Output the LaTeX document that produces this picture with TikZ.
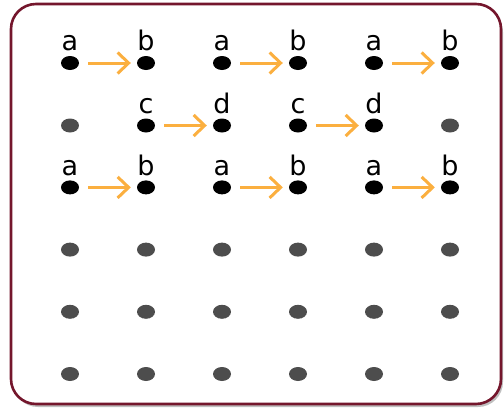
\documentclass[tikz,border=0pt]{standalone}
\usepackage{fontspec}
\setmainfont{DejaVu Sans}
\usetikzlibrary{arrows.meta,shapes.geometric,shadows}
\definecolor{frame}{HTML}{74162C}
\definecolor{greydot}{HTML}{4D4D4D}
\definecolor{flowc}{HTML}{FBAF3F}
\begin{document}
\begin{tikzpicture}[x=1pt,y=-1pt,>={Straight Barb[length=11pt,width=21pt]},
  dot/.style={ellipse,fill=#1,minimum width=18pt,minimum height=14pt,inner sep=0pt},
  dot/.default=greydot,
  lbl/.style={font=\fontsize{27}{30}\selectfont,label distance=1pt},
  flow/.style={->,draw=flowc,line width=3pt,shorten <=9pt,shorten >=6pt}]
\useasboundingbox (0,0) rectangle (504,408);
\draw[rounded corners=25pt,line width=2.6pt,draw=frame,fill=white,
  drop shadow={shadow xshift=2pt,shadow yshift=-3pt,opacity=.5}] (11,4) rectangle (501,404);
% labelled rows
\foreach \r in {1,3}
  \foreach \c/\t in {1/a,2/b,3/a,4/b,5/a,6/b}
    \node[dot=black,label={[lbl]above:\t}] (d\c\r) at ({70+76*(\c-1)},{63+62.2*(\r-1)}) {};
\foreach \c/\t in {2/c,3/d,4/c,5/d}
  \node[dot=black,label={[lbl]above:\t}] (d\c2) at ({70+76*(\c-1)},125.5) {};
% grey dots
\foreach \c in {1,6} \node[dot] (d\c2) at ({70+76*(\c-1)},125.5) {};
\foreach \r in {4,5,6}
  \foreach \c in {1,...,6}
    \node[dot] (d\c\r) at ({70+76*(\c-1)},{63+62.2*(\r-1)}) {};
% arrows
\foreach \r in {1,3}
  \foreach \c/\n in {1/2,3/4,5/6} \draw[flow] (d\c\r) -- (d\n\r);
\foreach \c/\n in {2/3,4/5} \draw[flow] (d\c2) -- (d\n2);
\end{tikzpicture}
\end{document}
